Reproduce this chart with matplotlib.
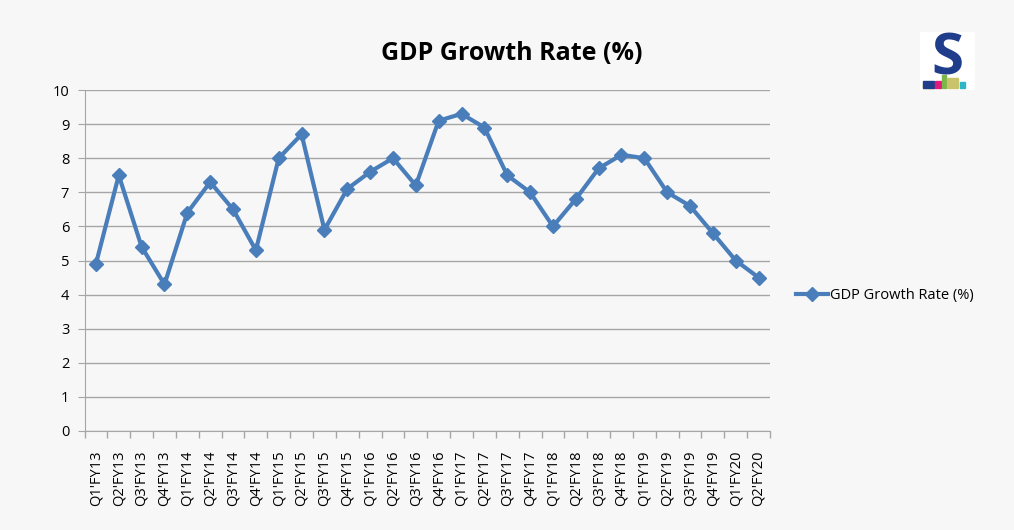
import matplotlib.pyplot as plt
from matplotlib.patches import Rectangle

quarters = ["Q1'FY13", "Q2'FY13", "Q3'FY13", "Q4'FY13",
            "Q1'FY14", "Q2'FY14", "Q3'FY14", "Q4'FY14",
            "Q1'FY15", "Q2'FY15", "Q3'FY15", "Q4'FY15",
            "Q1'FY16", "Q2'FY16", "Q3'FY16", "Q4'FY16",
            "Q1'FY17", "Q2'FY17", "Q3'FY17", "Q4'FY17",
            "Q1'FY18", "Q2'FY18", "Q3'FY18", "Q4'FY18",
            "Q1'FY19", "Q2'FY19", "Q3'FY19", "Q4'FY19",
            "Q1'FY20", "Q2'FY20"]
growth = [4.9, 7.5, 5.4, 4.3,
          6.4, 7.3, 6.5, 5.3,
          8.0, 8.7, 5.9, 7.1,
          7.6, 8.0, 7.2, 9.1,
          9.3, 8.9, 7.5, 7.0,
          6.0, 6.8, 7.7, 8.1,
          8.0, 7.0, 6.6, 5.8,
          5.0, 4.5]

BG = "#f7f7f7"
BLUE = "#4a7ebb"

plt.rcParams['font.family'] = ['Open Sans', 'DejaVu Sans']

fig = plt.figure(figsize=(10.14, 5.30), dpi=100, facecolor=BG)
ax = fig.add_axes([84.5 / 1014, 1 - 431 / 530, (770 - 84.5) / 1014, (431 - 90) / 530])
ax.set_facecolor(BG)

x = list(range(len(quarters)))
ax.plot(x, growth, color=BLUE, lw=3, marker="D", ms=7, mec=BLUE, mfc=BLUE,
        label="GDP Growth Rate (%)", zorder=3)

ax.set_xlim(-0.5, len(quarters) - 0.5)
ax.set_ylim(0, 10)
ax.set_yticks(range(0, 11))
ax.yaxis.grid(True, color="#a6a6a6", lw=1)
ax.set_axisbelow(True)

ax.set_xticks(x)
ax.set_xticklabels(quarters, rotation=90, fontsize=10.5)
ax.tick_params(axis="x", length=0, pad=14)
ax.set_xticks([i - 0.5 for i in range(len(quarters) + 1)], minor=True)
ax.tick_params(axis="x", which="minor", length=5, color="#a6a6a6", width=1)
ax.tick_params(axis="y", length=5, color="#a6a6a6", labelsize=10.5, pad=6)

for s in ["top", "right"]:
    ax.spines[s].set_visible(False)
for s in ["left", "bottom"]:
    ax.spines[s].set_color("#a6a6a6")

fig.text(512 / 1014, 1 - 53 / 530, "GDP Growth Rate (%)", ha="center", va="center",
         fontsize=18, fontweight="bold")

ax.legend(loc="center left", bbox_to_anchor=(783 / 1014, 1 - 296 / 530),
          bbox_transform=fig.transFigure, frameon=False, fontsize=10.5,
          handlelength=2.2, handletextpad=0.1)

# logo
lax = fig.add_axes([920 / 1014, 1 - 90 / 530, 55 / 1014, 58 / 530])
lax.set_xlim(0, 100)
lax.set_ylim(0, 100)
lax.axis("off")
lax.add_patch(Rectangle((0, 0), 100, 100, color="white"))
lax.text(50, 52, "S", ha="center", va="center", fontsize=42, fontweight="bold",
         color="#1f3d8a")
for bx, bw, bh, c in [(6, 20, 6, "#f2c12e"), (6, 20, 12, "#1f3d8a"),
                      (28, 10, 12, "#e0197d"), (40, 8, 22, "#7ab648"),
                      (50, 20, 16, "#c9c46c"), (72, 10, 10, "#2ab7c9")]:
    lax.add_patch(Rectangle((bx, 4), bw, bh, color=c))

fig.savefig("out.png", dpi=100, facecolor=BG)
